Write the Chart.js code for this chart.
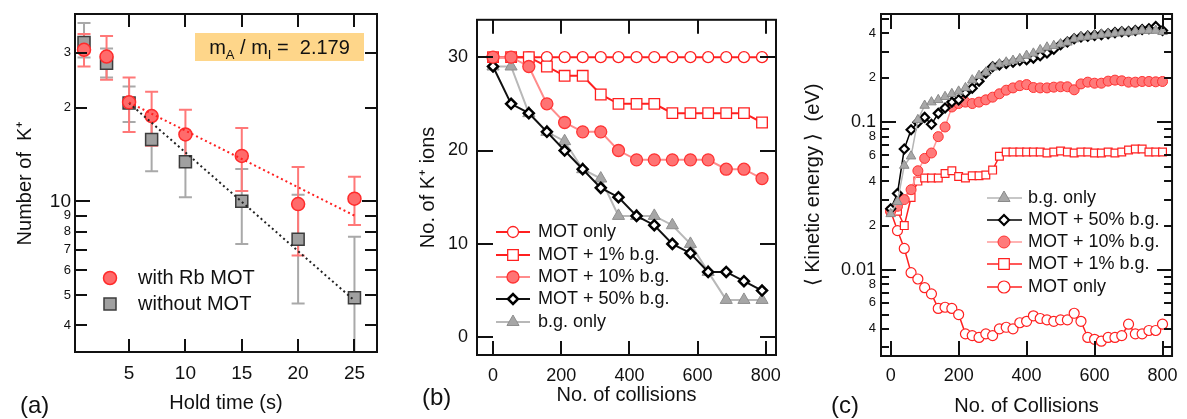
<!DOCTYPE html>
<html>
<head>
<meta charset="utf-8">
<script src="https://cdn.jsdelivr.net/npm/chart.js@4.4.0/dist/chart.umd.min.js"></script>
<style>
    html, body { margin: 0; padding: 0; background: #fff; }
    body { width: 1187px; height: 419px; position: relative; overflow: hidden; font-family: 'Liberation Sans', Arial, sans-serif; color: #111; }
    canvas { position: absolute; top: 0; }
    #chartA { left: 0; }
    #chartB { left: 400px; }
    #chartC { left: 800px; }
    .tag { position: absolute; font-size: 24px; line-height: 24px; }
    .note { position: absolute; left: 195px; top: 33px; width: 169px; height: 28px; background: #fed68a; font-size: 20px; line-height: 28px; text-align: center; white-space: pre; }
    .note sub { font-size: 13px; vertical-align: -5px; line-height: 0; }
</style>
</head>
<body>
<canvas id="chartA" width="400" height="419"></canvas>
<canvas id="chartB" width="400" height="419"></canvas>
<canvas id="chartC" width="387" height="419"></canvas>
<div class="note">m<sub>A</sub> / m<sub>I</sub> =  2.179</div>
<div class="tag" style="left:20px;top:393px">(a)</div>
<div class="tag" style="left:422px;top:385px">(b)</div>
<div class="tag" style="left:831px;top:393px">(c)</div>
<script>
// (a) ion number vs hold time
const holdTime = [1, 3, 5, 7, 10, 15, 20, 25];
const withMot = [30.7, 29.2, 20.8, 18.8, 16.4, 14.0, 9.8, 10.2];
const withMotHi = [34.5, 34.0, 25.0, 22.5, 19.7, 17.2, 12.9, 12.0];
const withMotLo = [27.1, 24.6, 16.7, 15.1, 13.0, 10.8, 6.7, 8.4];
const noMot = [32.4, 27.8, 20.7, 15.8, 13.4, 10.0, 7.56, 4.9];
const noMotHi = [37.4, 31.0, 23.4, 19.0, 16.5, 12.7, 10.5, 7.7];
const noMotLo = [29.0, 25.0, 18.0, 12.5, 10.3, 7.3, 4.7, 2.5];
const fitTime = [5, 25];
const fitWithMot = [20.8, 9.0];
const fitNoMot = [20.7, 4.8];
const aXTicks = [5, 10, 15, 20, 25];
const aYTicks = [4, 5, 6, 7, 8, 9, 10, 20, 30];
const aYLabels = ['4', '5', '6', '7', '8', '9', '10', '2', '3'];

// (b) ions left vs collisions
const collisions = [0, 53, 105, 158, 210, 263, 316, 368, 421, 473, 526, 579, 631, 684, 736, 789];
const bMotOnly = [30, 30, 30, 30, 30, 30, 30, 30, 30, 30, 30, 30, 30, 30, 30, 30];
const bMot1 = [30, 30, 30, 29, 28, 28, 26, 25, 25, 25, 24, 24, 24, 24, 24, 23];
const bMot10 = [30, 30, 29, 25, 23, 22, 22, 20, 19, 19, 19, 19, 19, 18, 18, 17];
const bMot50 = [29, 25, 24, 22, 20, 18, 16, 15, 13, 12, 10, 9, 7, 7, 6, 5];
const bBgOnly = [29, 29, 24, 22, 21, 18, 17, 13, 13, 13, 12, 10, 7, 4, 4, 4];
const bXTicks = [0, 200, 400, 600, 800];
const bYTicks = [0, 10, 20, 30];

// (c) mean kinetic energy vs collisions
const cSteps = [0, 20, 40, 60, 80, 100, 120, 140, 160, 180, 200, 220, 240, 260, 280, 300, 320, 340, 360, 380,
    400, 420, 440, 460, 480, 500, 520, 540, 560, 580, 600, 620, 640, 660, 680, 700, 720, 740, 760, 780, 800];
const cMotOnly = [0.025, 0.0185, 0.014, 0.0096, 0.0087, 0.0076, 0.0069, 0.0055, 0.0056, 0.0055,
    0.0050, 0.0037, 0.0036, 0.0035, 0.0037, 0.0036, 0.0040, 0.0041, 0.0040, 0.0044,
    0.0045, 0.0049, 0.0047, 0.0046, 0.0045, 0.0046, 0.0046, 0.0051, 0.0045, 0.0035,
    0.0034, 0.0033, 0.0035, 0.0035, 0.0036, 0.0043, 0.0037, 0.0037, 0.0039, 0.0039, 0.0043];
const cMot1 = [0.025, 0.025, 0.020, 0.031, 0.040, 0.042, 0.042, 0.042, 0.045, 0.047,
    0.043, 0.042, 0.0435, 0.0435, 0.044, 0.0475, 0.059, 0.063, 0.063, 0.063,
    0.063, 0.063, 0.063, 0.062, 0.063, 0.064, 0.063, 0.062, 0.063, 0.063,
    0.062, 0.062, 0.063, 0.062, 0.063, 0.065, 0.066, 0.066, 0.063, 0.063, 0.063];
const cMot10 = [0.025, 0.027, 0.030, 0.035, 0.047, 0.057, 0.062, 0.080, 0.093, 0.127,
    0.134, 0.137, 0.134, 0.137, 0.142, 0.148, 0.156, 0.165, 0.171, 0.177,
    0.180, 0.172, 0.171, 0.171, 0.173, 0.174, 0.174, 0.166, 0.182, 0.187,
    0.184, 0.184, 0.190, 0.193, 0.191, 0.187, 0.187, 0.189, 0.189, 0.188, 0.189];
const cMot50 = [0.026, 0.033, 0.066, 0.089, 0.100, 0.108, 0.097, 0.115, 0.125, 0.137,
    0.142, 0.158, 0.170, 0.190, 0.215, 0.238, 0.245, 0.250, 0.255, 0.262,
    0.265, 0.272, 0.282, 0.295, 0.312, 0.335, 0.350, 0.368, 0.378, 0.383,
    0.388, 0.392, 0.398, 0.405, 0.410, 0.412, 0.418, 0.425, 0.430, 0.445, 0.418];
const cBgOnly = [0.024, 0.029, 0.051, 0.059, 0.104, 0.130, 0.137, 0.142, 0.149, 0.156,
    0.162, 0.171, 0.193, 0.207, 0.218, 0.236, 0.248, 0.255, 0.262, 0.269,
    0.283, 0.293, 0.309, 0.322, 0.330, 0.339, 0.348, 0.366, 0.376, 0.380,
    0.386, 0.392, 0.396, 0.400, 0.407, 0.407, 0.413, 0.418, 0.418, 0.418, 0.410];
const cYTicks = [0.003, 0.004, 0.005, 0.006, 0.007, 0.008, 0.009, 0.01, 0.02, 0.03, 0.04, 0.05, 0.06, 0.07, 0.08, 0.09, 0.1, 0.2, 0.3, 0.4, 0.5];
const cYLabels = ['', '4', '', '6', '', '8', '', '0.01', '2', '', '4', '', '6', '', '8', '', '0.1', '2', '', '4', ''];

Chart.defaults.font.family = "'Liberation Sans', Arial, sans-serif";
Chart.defaults.color = '#111';
Chart.defaults.animation = false;
Chart.defaults.plugins.legend.display = false;
Chart.defaults.plugins.tooltip.enabled = false;

const pts = (xs, ys) => xs.map((x, i) => ({ x: x, y: ys[i] }));
const setTicks = vals => s => { s.ticks = vals.map(v => ({ value: v })); };
const noGrid = { display: false, drawTicks: false };

// frame box with inward ticks on all four sides
function frameTicks(xLen, yLen) {
    return {
        id: 'frameTicks',
        afterDatasetsDraw(chart) {
            const { ctx, chartArea: a, scales: { x, y } } = chart;
            ctx.save();
            ctx.strokeStyle = '#111';
            ctx.lineWidth = 2;
            ctx.beginPath();
            x.ticks.forEach(t => {
                const p = Math.round(x.getPixelForValue(t.value));
                ctx.moveTo(p, a.bottom); ctx.lineTo(p, a.bottom - xLen);
                ctx.moveTo(p, a.top); ctx.lineTo(p, a.top + xLen);
            });
            y.ticks.forEach((t, i) => {
                const p = Math.round(y.getPixelForValue(t.value));
                const len = typeof yLen === 'function' ? yLen(i) : yLen;
                ctx.moveTo(a.left, p); ctx.lineTo(a.left + len, p);
                ctx.moveTo(a.right, p); ctx.lineTo(a.right - len, p);
            });
            ctx.stroke();
            ctx.strokeRect(a.left, a.top, a.right - a.left, a.bottom - a.top);
            ctx.restore();
        }
    };
}

// vertical error bars with caps, clipped to plot area
function errorBars(sets) {
    return {
        id: 'errorBars',
        beforeDatasetsDraw(chart) {
            const { ctx, chartArea: a, scales: { x, y } } = chart;
            ctx.save();
            ctx.beginPath();
            ctx.rect(a.left, a.top, a.right - a.left, a.bottom - a.top);
            ctx.clip();
            ctx.lineWidth = 2;
            sets.forEach(s => {
                ctx.strokeStyle = s.color;
                s.xs.forEach((xv, i) => {
                    const px = x.getPixelForValue(xv);
                    const top = y.getPixelForValue(s.hi[i]);
                    const bot = y.getPixelForValue(s.lo[i]);
                    ctx.beginPath();
                    ctx.moveTo(px, top); ctx.lineTo(px, bot);
                    ctx.moveTo(px - 6.5, top); ctx.lineTo(px + 6.5, top);
                    ctx.moveTo(px - 6.5, bot); ctx.lineTo(px + 6.5, bot);
                    ctx.stroke();
                });
            });
            ctx.restore();
        }
    };
}

// legend drawn inside the plot area
function insideLegend(labels, cfg) {
    return {
        id: 'insideLegend',
        afterDraw(chart) {
            const ctx = chart.ctx;
            ctx.save();
            labels.forEach((label, i) => {
                const ds = chart.data.datasets.find(d => d.label === label);
                const y = cfg.rows[i];
                if (cfg.line) {
                    ctx.strokeStyle = ds.borderColor;
                    ctx.lineWidth = ds.borderWidth;
                    ctx.beginPath();
                    ctx.moveTo(cfg.x0, y); ctx.lineTo(cfg.x1, y);
                    ctx.stroke();
                }
                ctx.fillStyle = ds.pointBackgroundColor;
                ctx.strokeStyle = ds.pointBorderColor;
                ctx.lineWidth = ds.pointBorderWidth;
                Chart.helpers.drawPoint(ctx, {
                    pointStyle: ds.pointStyle,
                    radius: cfg.radius[i],
                    borderWidth: ds.pointBorderWidth,
                    rotation: 0
                }, cfg.xm, y);
                ctx.fillStyle = '#111';
                ctx.font = cfg.font;
                ctx.textAlign = 'left';
                ctx.textBaseline = 'middle';
                ctx.fillText(label, cfg.xt, y);
            });
            ctx.restore();
        }
    };
}

// 1. Panel (a)
new Chart(document.getElementById('chartA'), {
    type: 'line',
    data: {
        datasets: [
            { label: 'fit with MOT', data: pts(fitTime, fitWithMot), borderColor: '#ff2020', borderWidth: 2, borderDash: [2, 3], pointRadius: 0 },
            { label: 'fit without MOT', data: pts(fitTime, fitNoMot), borderColor: '#222', borderWidth: 2, borderDash: [2, 3], pointRadius: 0 },
            {
                label: 'with Rb MOT', data: pts(holdTime, withMot), showLine: false, pointStyle: 'circle', pointRadius: 6.5,
                pointBackgroundColor: '#ff6b6b', pointBorderColor: '#ff2b2b', pointBorderWidth: 1.5
            },
            {
                label: 'without MOT', data: pts(holdTime, noMot), showLine: false, pointStyle: 'rect', pointRadius: 8.5,
                pointBackgroundColor: '#a0a0a0', pointBorderColor: '#3c3c3c', pointBorderWidth: 1.5
            }
        ]
    },
    options: {
        responsive: false,
        layout: { padding: { left: 13, top: 14, right: 23, bottom: 4 } },
        scales: {
            x: {
                type: 'linear', min: 0.2, max: 27,
                afterBuildTicks: setTicks(aXTicks),
                afterFit: s => { s.height = 63; },
                grid: noGrid, border: { display: false },
                ticks: { padding: 10, font: { size: 19 }, color: '#111', autoSkip: false, maxRotation: 0 },
                title: { display: true, text: 'Hold time (s)', font: { size: 20 }, padding: 0, color: '#111' }
            },
            y: {
                type: 'logarithmic', min: 3.28, max: 40,
                afterBuildTicks: setTicks(aYTicks),
                afterFit: s => { s.width = 62; },
                grid: noGrid, border: { display: false },
                ticks: {
                    padding: 4, autoSkip: false, color: '#111',
                    callback: (v, i) => aYLabels[i],
                    font: c => ({ size: aYLabels[c.index] === '10' ? 19 : 13 })
                },
                title: { display: true, text: 'Number of  K\u207A', font: { size: 20 }, padding: 0, color: '#111' }
            }
        }
    },
    plugins: [
        errorBars([
            { xs: holdTime, hi: noMotHi, lo: noMotLo, color: '#a9a9a9' },
            { xs: holdTime, hi: withMotHi, lo: withMotLo, color: '#ff7878' }
        ]),
        frameTicks(13, i => (aYLabels[i] === '10' ? 15 : 12)),
        insideLegend(['with Rb MOT', 'without MOT'], { line: false, rows: [278, 304], xm: 110, xt: 138, radius: [6.5, 8.5], font: "20px 'Liberation Sans', Arial, sans-serif" })
    ]
});

// 2. Panel (b)
const bLegend = ['MOT only', 'MOT + 1% b.g.', 'MOT + 10% b.g.', 'MOT + 50% b.g.', 'b.g. only'];
new Chart(document.getElementById('chartB'), {
    type: 'line',
    data: {
        datasets: [
            {
                label: 'MOT + 10% b.g.', data: pts(collisions, bMot10), borderColor: '#ff8c8c', borderWidth: 2,
                pointStyle: 'circle', pointRadius: 6, pointBackgroundColor: '#ff7373', pointBorderColor: '#ff3333', pointBorderWidth: 1.3
            },
            {
                label: 'MOT + 50% b.g.', data: pts(collisions, bMot50), borderColor: '#111', borderWidth: 2,
                pointStyle: 'rectRot', pointRadius: 5, pointBackgroundColor: '#fff', pointBorderColor: '#000', pointBorderWidth: 2.5
            },
            {
                label: 'MOT + 1% b.g.', data: pts(collisions, bMot1), borderColor: '#ff2020', borderWidth: 2,
                pointStyle: 'rect', pointRadius: 7.5, pointBackgroundColor: '#fff', pointBorderColor: '#ff2020', pointBorderWidth: 1.3
            },
            {
                label: 'MOT only', data: pts(collisions, bMotOnly), borderColor: '#ff2020', borderWidth: 2,
                pointStyle: 'circle', pointRadius: 5.5, pointBackgroundColor: '#fff', pointBorderColor: '#ff2020', pointBorderWidth: 1.3
            },
            {
                label: 'b.g. only', data: pts(collisions, bBgOnly), borderColor: '#b8b8b8', borderWidth: 2,
                pointStyle: 'triangle', pointRadius: 7, pointBackgroundColor: '#a6a6a6', pointBorderColor: '#8e8e8e', pointBorderWidth: 1
            }
        ]
    },
    options: {
        responsive: false,
        layout: { padding: { left: 16, top: 14, right: 24, bottom: 12 } },
        scales: {
            x: {
                type: 'linear', min: -47, max: 830,
                afterBuildTicks: setTicks(bXTicks),
                afterFit: s => { s.height = 52; },
                grid: noGrid, border: { display: false },
                ticks: { padding: 10, font: { size: 18 }, color: '#111', autoSkip: false, maxRotation: 0 },
                title: { display: true, text: 'No. of collisions', font: { size: 20 }, padding: 0, color: '#111' }
            },
            y: {
                type: 'linear', min: -1.9, max: 34,
                afterBuildTicks: setTicks(bYTicks),
                afterFit: s => { s.width = 61; },
                grid: noGrid, border: { display: false },
                ticks: { padding: 9, font: { size: 18 }, color: '#111', autoSkip: false },
                title: { display: true, text: 'No. of K\u207A ions', font: { size: 20 }, padding: 0, color: '#111' }
            }
        }
    },
    plugins: [
        frameTicks(14, 16),
        insideLegend(bLegend, {
            line: true, x0: 96, x1: 130, xm: 113, xt: 138,
            rows: [232, 255, 277, 299, 322], radius: [5.5, 7.5, 6, 5, 7],
            font: "18px 'Liberation Sans', Arial, sans-serif"
        })
    ]
});

// 3. Panel (c)
const cLegend = ['b.g. only', 'MOT + 50% b.g.', 'MOT + 10% b.g.', 'MOT + 1% b.g.', 'MOT only'];
new Chart(document.getElementById('chartC'), {
    type: 'line',
    data: {
        datasets: [
            {
                label: 'b.g. only', data: pts(cSteps, cBgOnly), borderColor: '#b5b5b5', borderWidth: 1.5,
                pointStyle: 'triangle', pointRadius: 5.5, pointBackgroundColor: '#a8a8a8', pointBorderColor: '#8a8a8a', pointBorderWidth: 1
            },
            {
                label: 'MOT + 50% b.g.', data: pts(cSteps, cMot50), borderColor: '#000', borderWidth: 1.5,
                pointStyle: 'rectRot', pointRadius: 4.5, pointBackgroundColor: '#fff', pointBorderColor: '#000', pointBorderWidth: 2.2
            },
            {
                label: 'MOT + 10% b.g.', data: pts(cSteps, cMot10), borderColor: '#ff9a9a', borderWidth: 1.5,
                pointStyle: 'circle', pointRadius: 5, pointBackgroundColor: '#ff7a7a', pointBorderColor: '#ff3030', pointBorderWidth: 1
            },
            {
                label: 'MOT + 1% b.g.', data: pts(cSteps, cMot1), borderColor: '#ff2020', borderWidth: 1.5,
                pointStyle: 'rect', pointRadius: 5.5, pointBackgroundColor: '#fff', pointBorderColor: '#ff2020', pointBorderWidth: 1.2
            },
            {
                label: 'MOT only', data: pts(cSteps, cMotOnly), borderColor: '#ff2020', borderWidth: 1.5,
                pointStyle: 'circle', pointRadius: 5, pointBackgroundColor: '#fff', pointBorderColor: '#ff2020', pointBorderWidth: 1.2
            }
        ]
    },
    options: {
        responsive: false,
        layout: { padding: { left: 1, top: 14, right: 14, bottom: 1 } },
        scales: {
            x: {
                type: 'linear', min: -28.5, max: 828,
                afterBuildTicks: setTicks(bXTicks),
                afterFit: s => { s.height = 62; },
                grid: noGrid, border: { display: false },
                ticks: { padding: 9, font: { size: 18 }, color: '#111', autoSkip: false, maxRotation: 0 },
                title: { display: true, text: 'No. of Collisions', font: { size: 20 }, padding: 0, color: '#111' }
            },
            y: {
                type: 'logarithmic', min: 0.00262, max: 0.541,
                afterBuildTicks: setTicks(cYTicks),
                afterFit: s => { s.width = 80; },
                grid: noGrid, border: { display: false },
                ticks: {
                    padding: 5, autoSkip: false, color: '#111',
                    callback: (v, i) => cYLabels[i],
                    font: c => ({ size: cYLabels[c.index].length > 1 ? 18 : 13 })
                },
                title: { display: true, text: '\u27E8 Kinetic energy \u27E9  (eV)', font: { size: 20 }, padding: 0, color: '#111' }
            }
        }
    },
    plugins: [
        frameTicks(15, i => (cYLabels[i].length > 1 ? 15 : 8)),
        insideLegend(cLegend, {
            line: true, x0: 187, x1: 222, xm: 204, xt: 228,
            rows: [198, 220, 242, 264, 287], radius: [7, 5, 6, 7.5, 6],
            font: "18px 'Liberation Sans', Arial, sans-serif"
        })
    ]
});
</script>
</body>
</html>
